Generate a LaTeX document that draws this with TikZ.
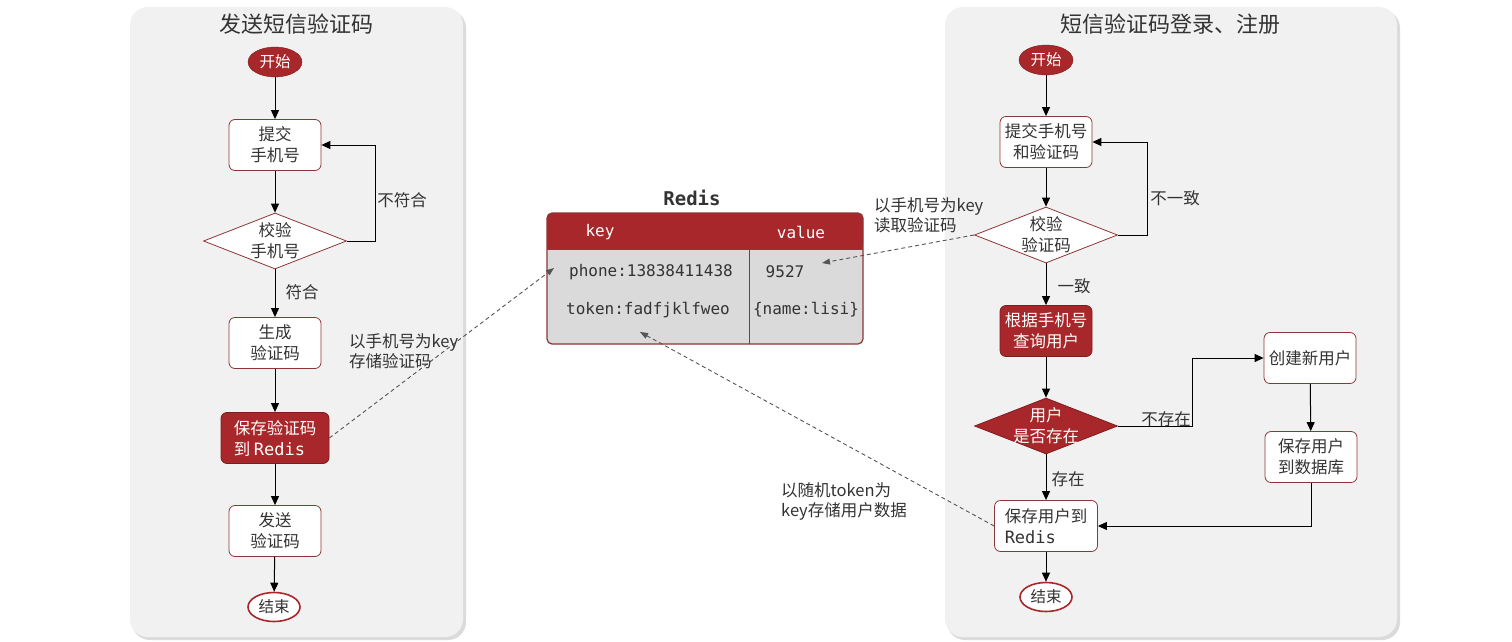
\documentclass[tikz,border=0pt]{standalone}
\usepackage{fontspec}
\setmainfont{Noto Sans CJK SC}
\setmonofont{DejaVu Sans Mono}
\usetikzlibrary{shapes.geometric,arrows.meta}
\definecolor{rd}{HTML}{A8272A}
\definecolor{rdb}{HTML}{8E3535}
\definecolor{txt}{HTML}{333333}
\definecolor{panel}{HTML}{F1F1F1}
\definecolor{cell}{HTML}{DADADA}
\definecolor{dsh}{HTML}{555555}
\begin{document}
\begin{tikzpicture}[x=1pt,y=-1pt,
  every node/.style={text=txt},
  txtf/.style={font=\fontsize{16.5}{21}\selectfont},
  box/.style={draw=rdb, line width=0.8pt, fill=white, rounded corners=6pt,
    minimum width=92pt, minimum height=51pt, inner sep=0pt, align=center, txtf},
  redbox/.style={box, fill=rd, draw=rd!75!black, text=white},
  dia/.style={diamond, draw=rdb, line width=0.8pt, fill=white,
    minimum width=143pt, minimum height=56pt, inner sep=0pt},
  reddia/.style={dia, fill=rd, draw=rd!75!black},
  startnode/.style={ellipse, fill=rd, draw=rd!75!black, minimum width=54pt,
    minimum height=30pt, inner sep=0pt, text=white, font=\fontsize{15.5}{18}\selectfont},
  endnode/.style={ellipse, fill=white, draw=rd, line width=1.6pt, minimum width=52pt,
    minimum height=29pt, inner sep=0pt, font=\fontsize{15.5}{18}\selectfont},
  arr/.style={draw=black, line width=1pt, -{Triangle[length=9pt,width=8pt]}},
  darr/.style={draw=dsh, line width=0.9pt, dash pattern=on 4pt off 3pt,
    -{Triangle[length=8pt,width=6pt]}},
  lbl/.style={txtf, inner sep=0pt},
  note/.style={inner sep=0pt, anchor=west, align=left, font=\fontsize{16.5}{20}\selectfont},
  ttl/.style={font=\fontsize{22}{25}\selectfont, inner sep=0pt},
  mono/.style={font=\fontsize{16}{20}\selectfont\ttfamily, inner sep=0pt},
  panelbg/.style={fill=panel, rounded corners=18pt},
  shadowbg/.style={fill=black!14, rounded corners=18pt}
]
\useasboundingbox (0,0) rectangle (1512,642);
\fill[white] (0,0) rectangle (1512,642);

% panels
\fill[shadowbg] (132,10) rectangle (466,640);
\fill[panelbg] (130,7) rectangle (463,637);
\fill[shadowbg] (947,10) rectangle (1400,640);
\fill[panelbg] (945,7) rectangle (1397,637);

\node[ttl] (t1) at (296,24) {发送短信验证码};
\node[ttl] (t2) at (1170,24) {短信验证码登录、注册};

% ---------- left flow ----------
\node[startnode] (s1) at (275,62) {开始};
\node[box] (b1) at (275,145) {提交\\手机号};
\node[dia] (d1) at (275,241) {};
\node[lbl, align=center] (d1t) at (275,241) {校验\\手机号};
\node[box] (b2) at (275,343) {生成\\验证码};
\node[redbox, align=left, minimum width=108pt] (b3) at (275,438) {保存验证码\\到 {\fontsize{17}{21}\selectfont\ttfamily Redis}};
\node[box] (b4) at (275,531) {发送\\验证码};
\node[endnode] (e1) at (274,607) {结束};

\draw[arr] (s1) -- (b1);
\draw[arr] (b1) -- (d1);
\draw[arr] (d1) -- (b2);
\draw[arr] (b2) -- (b3);
\draw[arr] (b3) -- (b4);
\draw[arr] (b4) -- (e1);
\draw[arr] (d1.east) -- ++(29,0) |- (b1.east);
\node[lbl] (l1) at (402,200) {不符合};
\node[lbl] (l2) at (302,292) {符合};

% ---------- Redis table ----------
\node[font=\fontsize{19}{22}\selectfont\ttfamily\bfseries, inner sep=0pt] (rt) at (692,198) {Redis};
\fill[cell, rounded corners=5pt] (547,213) rectangle (863,344);
\fill[rd, rounded corners=5pt] (547,213) rectangle (863,249);
\fill[rd] (547,240) rectangle (863,249);
\draw[rdb, line width=1pt] (547,249) -- (863,249);
\draw[rdb, line width=1pt] (749,249) -- (749,344);
\draw[rdb, line width=1.2pt, rounded corners=5pt] (547,213) rectangle (863,344);
\node[mono, text=white] (hk) at (600,232) {key};
\node[mono, text=white] (hv) at (801,232) {value};
\node[mono] (k1) at (651,272) {phone:13838411438};
\node[mono] (v1) at (785,272) {9527};
\node[mono] (k2) at (648,310) {token:fadfjklfweo};
\node[mono] (v2) at (806,310) {\{name:lisi\}};
\coordinate (rk1) at (554,268);
\coordinate (rv1) at (822,263);
\coordinate (rk2) at (640,332);

% ---------- right flow ----------
\node[startnode] (s2) at (1046,60) {开始};
\node[box] (c1) at (1046,142) {提交手机号\\和验证码};
\node[dia] (d2) at (1046,235) {};
\node[lbl, align=center] (d2t) at (1046,235) {校验\\验证码};
\node[redbox] (c2) at (1046,331) {根据手机号\\查询用户};
\node[reddia] (d3) at (1046,426) {};
\node[lbl, align=center, text=white] (d3t) at (1046,426) {用户\\是否存在};
\node[box] (c3) at (1310,358) {创建新用户};
\node[box] (c4) at (1311,457) {保存用户\\到数据库};
\node[box, minimum width=103pt, align=left] (c5) at (1046,526) {保存用户到\\{\fontsize{17}{21}\selectfont\ttfamily Redis}};
\node[endnode] (e2) at (1046,597) {结束};

\draw[arr] (s2) -- (c1);
\draw[arr] (c1) -- (d2);
\draw[arr] (d2) -- (c2);
\draw[arr] (c2) -- (d3);
\draw[arr] (d3) -- (c5);
\draw[arr] (c5) -- (e2);
\draw[arr] (d2.east) -- ++(30,0) |- (c1.east);
\draw[arr] (d3.east) -- ++(75,0) |- (c3.west);
\draw[arr] (c3) -- (c4);
\draw[arr] (c4.south) |- (c5.east);
\node[lbl] (l3) at (1175,198) {不一致};
\node[lbl] (l4) at (1074,286) {一致};
\node[lbl] (l5) at (1166,419) {不存在};
\node[lbl] (l6) at (1068,479) {存在};

% ---------- dashed connectors ----------
\draw[darr] (b3.east) -- (rk1);
\draw[darr] (d2.west) -- (rv1);
\draw[darr] (c5.west) -- (rk2);
\node[note] (n1) at (349,351) {以手机号为key\\存储验证码};
\node[note] (n2) at (874,215) {以手机号为key\\读取验证码};
\node[note] (n3) at (781,501) {以随机token为\\key存储用户数据};
\end{tikzpicture}
\end{document}
